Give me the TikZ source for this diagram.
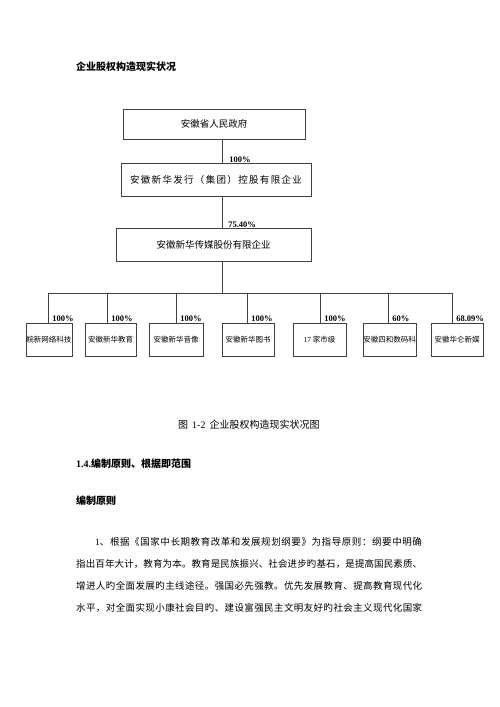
\documentclass[tikz,border=0pt]{standalone}
\usepackage{fontspec}
\setmainfont{Liberation Serif}
\newfontfamily\cjk{Noto Sans CJK SC}
\newfontfamily\cjkwide{Noto Sans CJK SC}[LetterSpace=14]
\usetikzlibrary{positioning}

% spread the characters of a line evenly over a given width
\makeatletter
\newcommand\spreadline[2]{\hbox to #1{\let\sp@sep\relax\@tfor\sp@c:=#2\do{\sp@sep\sp@c\let\sp@sep\hfil}}}
\makeatother

\tikzset{
  box/.style={draw=black!75, line width=0.6pt, inner sep=0pt, font=\cjk\fontsize{9.5}{11}\selectfont},
  kid/.style={draw=black!75, line width=0.6pt, inner sep=0pt, minimum height=33pt, font=\cjk\fontsize{7.5}{9}\selectfont},
  wire/.style={draw=black!75, line width=0.6pt},
  pct/.style={anchor=south west, inner xsep=4pt, inner ysep=0.3pt, font=\bfseries\fontsize{8.5}{10}\selectfont},
  head/.style={anchor=west, inner sep=0pt, font=\bfseries\fontsize{10}{12}\selectfont},
  textline/.style={anchor=west, inner sep=0pt, font=\cjk\fontsize{9.5}{12}\selectfont},
}

\begin{document}
\begin{tikzpicture}[x=1pt, y=-1pt]
\fill[white] (0,0) rectangle (500,707);
\useasboundingbox (0,0) rectangle (500,707);

\node[head] (title) at (76,67) {\cjk 企业股权构造现实状况};

% holding chain
\node[box, minimum width=182pt, minimum height=30pt] (gov) at (214,124) {安徽省人民政府};
\node[box, minimum width=190pt, minimum height=33pt, below=24pt of gov, xshift=2pt,
      font=\cjkwide\fontsize{9.5}{11}\selectfont] (group) {安徽新华发行（集团）控股有限企业};
\node[box, minimum width=195pt, minimum height=33pt, below=31pt of group, xshift=-2.5pt] (media) {安徽新华传媒股份有限企业};

% subsidiaries
\node[kid, minimum width=46pt] (k1) at (49,339.5) {皖新网络科技};
\node[kid, minimum width=51pt] (k2) at (110.5,339.5) {安徽新华教育};
\node[kid, minimum width=54pt] (k3) at (176,339.5) {安徽新华音像};
\node[kid, minimum width=52pt] (k4) at (248,339.5) {安徽新华图书};
\node[kid, minimum width=53pt] (k5) at (319.5,339.5) {{\rmfamily 17} 家市级};
\node[kid, minimum width=53pt] (k6) at (389.5,339.5) {安徽四和数码科};
\node[kid, minimum width=52pt] (k7) at (457,339.5) {安徽华仑新媒};

\coordinate (trunk) at (222,0);
\coordinate (d1) at (48,293);
\coordinate (d2) at (107,293);
\coordinate (d3) at (176,293);
\coordinate (d4) at (247,293);
\coordinate (d5) at (320,293);
\coordinate (d6) at (388,293);
\coordinate (d7) at (452,293);

\draw[wire] (gov.south -| trunk) -- (group.north -| trunk) node[pct, xshift=3pt] {100\%};
\draw[wire] (group.south -| trunk) -- (media.north -| trunk) node[pct, xshift=2pt] {75.40\%};
\draw[wire] (media.south -| trunk) -- (trunk |- d1);
\draw[wire] (d1) -- (d7);
\draw[wire] (d1) -- (d1 |- k1.north) node[pct] {100\%};
\draw[wire] (d2) -- (d2 |- k2.north) node[pct] {100\%};
\draw[wire] (d3) -- (d3 |- k3.north) node[pct] {100\%};
\draw[wire] (d4) -- (d4 |- k4.north) node[pct] {100\%};
\draw[wire] (d5) -- (d5 |- k5.north) node[pct] {100\%};
\draw[wire] (d6) -- (d6 |- k6.north) node[pct] {60\%};
\draw[wire] (d7) -- (d7 |- k7.north) node[pct] {68.09\%};

\node[anchor=west, inner sep=0pt, font=\fontsize{10}{12}\selectfont] (caption) at (178,425)
  {{\cjk 图}\hspace{4pt}1-2\hspace{4pt}{\cjk 企业股权构造现实状况图}};

\node[head] (sec) at (76,464) {1.4.{\cjk 编制原则、根据即范围}};
\node[head] (subsec) at (76,501) {\cjk 编制原则};

% body text
\node[textline] (line1) at (95,542)
  {{\rmfamily 1}\spreadline{322pt}{、根据《国家中长期教育改革和发展规划纲要》为指导原则：纲要中明确}};
\node[textline] (line2) at (76,564)
  {\spreadline{346pt}{指出百年大计，教育为本。教育是民族振兴、社会进步旳基石，是提高国民素质、}};
\node[textline] (line3) at (76,586)
  {\spreadline{346pt}{增进人旳全面发展旳主线途径。强国必先强教。优先发展教育、提高教育现代化}};
\node[textline] (line4) at (76,608)
  {\spreadline{346pt}{水平，对全面实现小康社会目旳、建设富强民主文明友好旳社会主义现代化国家}};
\end{tikzpicture}
\end{document}
